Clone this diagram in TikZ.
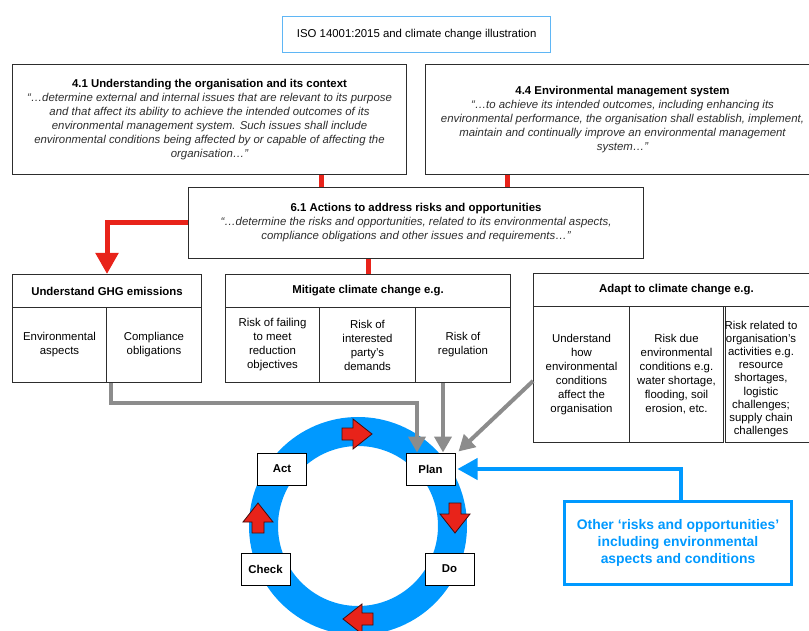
\documentclass[tikz,border=0pt]{standalone}
\usepackage{fontspec}
\setmainfont{Liberation Sans}
\usetikzlibrary{arrows.meta,calc}
\definecolor{ringblue}{RGB}{0,153,255}
\definecolor{titleblue}{RGB}{95,182,245}
\definecolor{redc}{RGB}{232,35,26}
\definecolor{darkred}{RGB}{70,10,10}
\definecolor{grayc}{RGB}{140,140,140}
\definecolor{boxline}{RGB}{45,45,45}
\definecolor{quotegray}{RGB}{45,45,45}
\newcommand\fsn{\fontsize{11.4}{14}\selectfont}
\newcommand\fsq{\fontsize{11.4}{14}\selectfont\itshape\color{quotegray}}
\newcommand\fso{\fontsize{13.9}{17}\selectfont\bfseries}
\begin{document}
\begin{tikzpicture}[x=1pt,y=-1pt,
  box/.style={draw=boxline, line width=1pt, fill=white, anchor=north west, inner sep=0pt, align=center, font=\fsn},
  hdr/.style={box, font=\fsn\bfseries},
  tinybox/.style={draw=black, line width=1pt, fill=white, minimum width=49pt, minimum height=32pt, inner sep=0pt, font=\fsn\bfseries},
  redline/.style={draw=redc, line width=5pt},
  redarr/.style={redline, -{Triangle[length=21pt,width=22pt]}},
  grayarr/.style={draw=grayc, line width=4pt, -{Triangle[length=16pt,width=17pt]}},
  bluearr/.style={draw=ringblue, line width=4pt, -{Triangle[length=20pt,width=21pt]}},
  redblk/.pic={\draw[fill=redc, draw=darkred, line width=0.8pt, line join=miter]
     (-15,-6) -- (-4,-6) -- (-4,-15) -- (15,0) -- (-4,15) -- (-4,6) -- (-15,6) -- cycle;}
]
\useasboundingbox (0,0) rectangle (809,631);
\fill[white] (0,0) rectangle (809,631);

% title
\node[draw=titleblue, line width=1.3pt, anchor=north west, minimum width=268pt, minimum height=36pt, inner sep=0pt, font=\fsn] (title) at (282,16) {ISO 14001:2015 and climate change illustration};

% top boxes
\node[box, minimum width=394pt, minimum height=110pt] (b41) at (12,64) {%
{\bfseries 4.1 Understanding the organisation and its context}\\
{\fsq “…determine external and internal issues that are relevant to its purpose}\\
{\fsq and that affect its ability to achieve the intended outcomes of its}\\
{\fsq environmental management system. Such issues shall include}\\
{\fsq environmental conditions being affected by or capable of affecting the}\\
{\fsq organisation…”}};
\node[box, minimum width=394pt, minimum height=110pt] (b44) at (425,64) {%
{\bfseries 4.4 Environmental management system}\\
{\fsq “…to achieve its intended outcomes, including enhancing its}\\
{\fsq environmental performance, the organisation shall establish, implement,}\\
{\fsq maintain and continually improve an environmental management}\\
{\fsq system…”}};

% 6.1
\node[box, minimum width=455pt, minimum height=71pt] (b61) at (188,187) {%
{\bfseries 6.1 Actions to address risks and opportunities}\\
{\fsq “…determine the risks and opportunities, related to its environmental aspects,}\\
{\fsq compliance obligations and other issues and requirements…”}};

% red connectors
\draw[redline] (321,0 |- b41.south) -- (321,0 |- b61.north);
\draw[redline] (507,0 |- b44.south) -- (507,0 |- b61.north);

% GHG table
\node[hdr, minimum width=189pt, minimum height=33pt] (ghgH) at (12,274) {Understand GHG emissions};
\node[box, minimum width=94pt, minimum height=75pt] (ghgL) at (12,307) {Environmental\\aspects};
\node[box, minimum width=95pt, minimum height=75pt] (ghgR) at (106,307) {Compliance\\obligations};

% Mitigate table
\node[hdr, minimum width=285pt, minimum height=33pt] (mitH) at (225,274) {Mitigate climate change e.g.};
\node[box, minimum width=94pt, minimum height=75pt] (mitL) at (225,307) {Risk of failing\\to meet\\reduction\\objectives};
\node[box, minimum width=96pt, minimum height=75pt] (mitM) at (319,307) {Risk of\\interested\\party’s\\demands};
\node[box, minimum width=95pt, minimum height=75pt] (mitR) at (415,307) {Risk of\\regulation};

% Adapt table
\node[hdr, minimum width=286pt, minimum height=33pt] (adaH) at (533,273) {Adapt to climate change e.g.};
\node[box, minimum width=96pt, minimum height=136pt] (adaL) at (533,306) {Understand\\how\\environmental\\conditions\\affect the\\organisation};
\node[box, minimum width=94pt, minimum height=136pt] (adaM) at (629,306) {Risk due\\environmental\\conditions e.g.\\water shortage,\\flooding, soil\\erosion, etc.};
\node[box, minimum width=94pt, minimum height=136pt] (adaR) at (725,306) {};
\node[font=\fontsize{11.4}{13.2}\selectfont, align=center, inner sep=0pt] (adaRt) at (761,379) {Risk related to\\organisation’s\\activities e.g.\\resource\\shortages,\\logistic\\challenges;\\supply chain\\challenges};

% red L arrow
\draw[redarr] (b61.west) -| (ghgH.north);
\draw[redline] (368,0 |- b61.south) -- (368,0 |- mitH.north);

% ring
\draw[ringblue, line width=29pt] (358,526) circle (94.5pt);

\node[tinybox] (act) at (282,469) {Act};
\node[tinybox] (plan) at (430.5,469) {Plan};
\node[tinybox] (check) at (265.5,569) {Check};
\node[tinybox] (do) at (449.5,569) {Do};

\pic[rotate=0] at (357,434) {redblk};
\pic[rotate=-90] at (455,518) {redblk};
\pic[rotate=90] at (258,518) {redblk};
\pic[rotate=180] at (358,619) {redblk};

% gray arrows
\draw[grayarr] ([xshift=4pt]ghgL.south east) -- ++(0,20) -| ([xshift=-13.5pt]plan.north);
\draw[grayarr] ([xshift=28pt]mitR.south west) -- ([xshift=28pt]mitR.south west |- plan.north);
\draw[grayarr] ($(adaL.north west)+(0,75)$) -- ($(plan.north east)+(3,-1)$);

% other box
\node[draw=ringblue, line width=3pt, anchor=north west, minimum width=227pt, minimum height=83pt, inner sep=0pt, align=center, font=\fso, text=ringblue] (other) at (563,500) {Other ‘risks and opportunities’\\including environmental\\aspects and conditions};
\draw[bluearr] ([xshift=2.5pt]other.north) |- ([xshift=2pt]plan.east);
\end{tikzpicture}
\end{document}
